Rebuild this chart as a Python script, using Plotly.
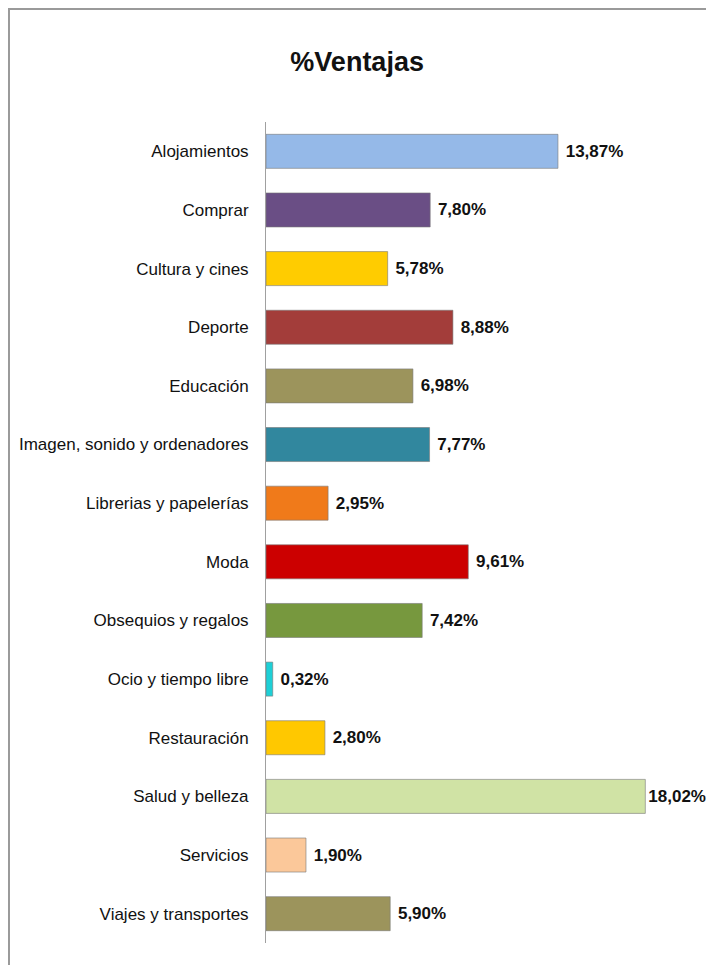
import plotly.graph_objects as go

categories = ["Alojamientos", "Comprar", "Cultura y cines", "Deporte", "Educación",
              "Imagen, sonido y ordenadores", "Librerias y papelerías", "Moda",
              "Obsequios y regalos", "Ocio y tiempo libre", "Restauración",
              "Salud y belleza", "Servicios", "Viajes y transportes"]
values = [13.87, 7.80, 5.78, 8.88, 6.98, 7.77, 2.95, 9.61, 7.42, 0.32, 2.80, 18.02, 1.90, 5.90]
labels = ["13,87%", "7,80%", "5,78%", "8,88%", "6,98%", "7,77%", "2,95%", "9,61%",
          "7,42%", "0,32%", "2,80%", "18,02%", "1,90%", "5,90%"]
colors = ["#95B9E8", "#6A4E85", "#FFCC00", "#A33D3A", "#9C945C", "#31879E", "#F07A1A",
          "#CC0000", "#77983E", "#1ECFD6", "#FFC800", "#D0E3A5", "#FBC89A", "#9C945C"]

FONT = "Liberation Sans, sans-serif"

vmax = max(values)
templates = ["%{text}" if v == vmax else " %{text}" for v in values]

fig = go.Figure(go.Bar(
    x=values, y=categories, orientation="h",
    marker=dict(color=colors, line=dict(color="rgba(120,120,120,0.6)", width=1)),
    width=0.58,
    text=labels, texttemplate=templates, textposition="outside", cliponaxis=False,
    textfont=dict(family=FONT, size=17, color="#111111", weight="bold"),
))

fig.update_layout(
    width=714, height=965,
    paper_bgcolor="white", plot_bgcolor="white",
    margin=dict(l=258, r=35, t=114, b=30),
    title=dict(text="<b>%Ventajas</b>", x=0.489, xanchor="center", y=0.945, yanchor="middle",
               font=dict(family=FONT, size=27, color="#111111")),
    showlegend=False,
    xaxis=dict(range=[0, 20], visible=False, automargin=False),
    yaxis=dict(autorange="reversed", showline=True, linecolor="#A0A0A0", linewidth=1,
               ticks="", ticklabelstandoff=13, showgrid=False, automargin=False,
               tickfont=dict(family=FONT, size=17, color="#111111")),
    shapes=[dict(type="rect", xref="paper", yref="paper", x0=-0.6105, x1=1.0523, y0=-0.1, y1=1.1376,
                 line=dict(color="#9A9A9A", width=2), layer="below")],
)

fig.write_html("out.html")
